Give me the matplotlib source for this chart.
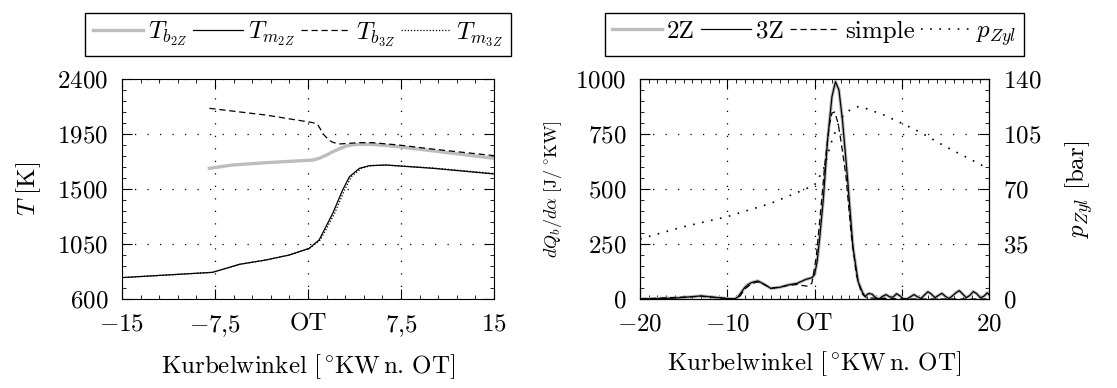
import numpy as np
import matplotlib
matplotlib.use("Agg")
import matplotlib.pyplot as plt
from matplotlib.ticker import MultipleLocator, AutoMinorLocator

plt.rcParams['font.family'] = 'serif'
plt.rcParams['font.serif'] = ['cmr10']
plt.rcParams['mathtext.fontset'] = 'cm'
plt.rcParams['axes.formatter.use_mathtext'] = True
plt.rcParams['font.size'] = 18

# --- left panel: temperatures ---
x_m2 = [-15, -7.7, -5.5, -3.4, -1.5, 0.1, 0.9, 2.0, 2.8, 3.35, 4.15, 4.96, 6.3, 10.1, 15]
T_m2 = [775, 818, 884, 919, 960, 1014, 1083, 1301, 1492, 1601, 1669, 1691, 1696, 1669, 1623]
x_m3 = [-15, -7.7, -5.5, -3.4, -1.5, 0.1, 1.0, 2.15, 2.95, 3.5, 4.3, 5.1, 6.3, 10.1, 15]
T_m3 = [775, 818, 884, 919, 960, 1014, 1083, 1301, 1492, 1601, 1669, 1691, 1696, 1672, 1627]
x_b2 = [-7.95, -6.1, -3.4, 0.4, 0.9, 1.5, 2.0, 2.6, 3.1, 3.6, 4.2, 5.2, 7.3, 10.0, 15]
T_b2 = [1669, 1696, 1715, 1737, 1751, 1778, 1805, 1832, 1852, 1861, 1865, 1865, 1846, 1813, 1751]
x_b3 = [-7.95, -3.4, 0.4, 0.8, 1.3, 1.7, 2.0, 2.5, 4.1, 5.2, 7.3, 10.0, 15]
T_b3 = [2160, 2105, 2043, 2024, 1942, 1900, 1882, 1868, 1879, 1879, 1860, 1827, 1773]

# --- right panel: heat release and cylinder pressure ---
x_q = [-20, -16, -13, -11, -10, -9.2, -8.8, -8.4, -8, -7.6, -7.2, -6.5, -5.8, -5, -4, -3, -2,
       -1, -0.3, 0, 0.3, 0.6, 1, 1.5, 2, 2.4, 2.8, 3.2, 3.8, 4.4, 5, 5.5, 5.8, 6.2, 6.6, 7,
       7.4, 7.8, 8.2, 8.6, 9.0, 9.4, 9.8, 10.2, 10.6, 11.0, 11.4, 11.8, 12.2, 12.6, 13.0,
       13.4, 13.8, 14.2, 14.6, 15.0, 15.4, 15.8, 16.2, 16.6, 17.0, 17.4, 17.8, 18.2, 18.6,
       19.0, 19.4, 19.8, 20]
q_3z = [0, 4, 14, 6, 2, 0, 8, 30, 52, 66, 75, 82, 68, 48, 53, 64, 71,
        89, 97, 110, 170, 280, 450, 723, 920, 988, 950, 814, 541, 238, 79, 30, 12, 25, 22, 6,
        0, 12, 20, 10, 8, 24, 14, 0, 0, 10, 20, 10, 2, 18, 33,
        22, 6, 16, 26, 12, 2, 14, 28, 38, 22, 6, 16, 34, 24, 6, 12, 28, 20]
x_s = [-20, -13, -10, -9, -8.5, -8, -7.2, -6.5, -5.8, -5, -4, -3, -2, -1.5, -0.8, -0.3,
       0.2, 0.7, 1.2, 1.7, 2.0, 2.3, 2.7, 3.1, 3.6, 4.2, 4.8, 5.4, 6, 10, 20]
q_s = [0, 12, 2, 0, 15, 45, 70, 78, 66, 50, 54, 62, 66, 62, 58, 72,
       190, 400, 620, 790, 845, 850, 800, 700, 560, 300, 110, 25, 5, 0, 0]
x_p = [-20, -15, -10, -5, -2, 0, 1, 2, 3, 4, 5, 6, 8, 10, 12, 15, 18, 20]
p_zyl = [38.2, 46, 52.4, 60.9, 67.7, 72.5, 82, 101, 115, 120, 122.4, 121, 117, 111.8,
         106.5, 97, 88.5, 82.7]

xlabel = r'$\mathrm{Kurbelwinkel\ [^\circ\!KW\,n.\,OT]}$'

fig = plt.figure(figsize=(11.17, 3.88), dpi=100)
ax1 = fig.add_axes([0.1092, 0.2294, 0.3330, 0.5670])
ax2 = fig.add_axes([0.5730, 0.2294, 0.3124, 0.5670])
ax3 = ax2.twinx()

grid_kw = dict(color='black', linestyle=(0, (1, 9)), linewidth=0.9)
gray = '#bdbdbd'
leg_kw = dict(loc='center', ncol=4, fancybox=False, edgecolor='black', framealpha=1,
              handlelength=2.0, handletextpad=0.2, columnspacing=0.25, borderpad=0.3,
              fontsize=18)

l1, = ax1.plot(x_b2, T_b2, color=gray, lw=2.4, label=r'$T_{b_{2Z}}$')
l2, = ax1.plot(x_m2, T_m2, color='black', lw=0.9, label=r'$T_{m_{2Z}}$')
l3, = ax1.plot(x_b3, T_b3, color='black', lw=0.9, ls=(0, (5, 3)), label=r'$T_{b_{3Z}}$')
l4, = ax1.plot(x_m3, T_m3, color='black', lw=0.9, ls=(0, (1, 1.5)), label=r'$T_{m_{3Z}}$')
ax1.set_xlim(-15, 15)
ax1.set_ylim(600, 2400)
ax1.set_xticks([-15, -7.5, 0, 7.5, 15])
ax1.set_xticklabels([r'$-15$', r'$-7{,}5$', 'OT', r'$7{,}5$', r'$15$'])
ax1.set_yticks([600, 1050, 1500, 1950, 2400])
ax1.set_yticklabels([r'$600$', r'$1050$', r'$1500$', r'$1950$', r'$2400$'])
ax1.xaxis.set_minor_locator(MultipleLocator(1.5))
ax1.yaxis.set_minor_locator(AutoMinorLocator(5))
ax1.grid(True, **grid_kw)
ax1.set_ylabel(r'$T\ \mathrm{[K]}$', labelpad=10)
ax1.set_xlabel(xlabel, labelpad=10)
ax1.tick_params(which='both', direction='in', top=True, right=True)
ax1.tick_params(which='major', length=7, pad=10)
ax1.tick_params(which='minor', length=3)
fig.legend(handles=[l1, l2, l3, l4], bbox_to_anchor=(0.2668, 0.912), **leg_kw)

r1, = ax2.plot(x_q, q_3z, color=gray, lw=2.4, label='2Z')
r2, = ax2.plot(x_q, q_3z, color='black', lw=0.9, label='3Z')
r3, = ax2.plot(x_s, q_s, color='black', lw=0.9, ls=(0, (5, 3)), label='simple')
r4, = ax3.plot(x_p, p_zyl, color='black', lw=1.2, ls=(0, (1, 4.5)), label=r'$p_{Zyl}$')
ax2.set_xlim(-20, 20)
ax2.set_ylim(0, 1000)
ax3.set_ylim(0, 140)
ax2.set_xticks([-20, -10, 0, 10, 20])
ax2.set_xticklabels([r'$-20$', r'$-10$', 'OT', r'$10$', r'$20$'])
ax2.set_yticks([0, 250, 500, 750, 1000])
ax2.set_yticklabels([r'$0$', r'$250$', r'$500$', r'$750$', r'$1000$'])
ax3.set_yticks([0, 35, 70, 105, 140])
ax3.set_yticklabels([r'$0$', r'$35$', r'$70$', r'$105$', r'$140$'])
ax2.xaxis.set_minor_locator(MultipleLocator(1))
ax2.yaxis.set_minor_locator(AutoMinorLocator(5))
ax3.yaxis.set_minor_locator(AutoMinorLocator(5))
ax2.grid(True, **grid_kw)
ax2.set_ylabel(r'$dQ_b/d\alpha\ \mathrm{[J/^\circ\!KW]}$', fontsize=13, labelpad=8)
ax3.set_ylabel(r'$p_{Zyl}\ \mathrm{[bar]}$', labelpad=16)
ax2.set_xlabel(xlabel, labelpad=10)
ax2.tick_params(which='both', direction='in', top=True)
ax2.tick_params(which='major', length=7, pad=10)
ax2.tick_params(which='minor', length=3)
ax3.tick_params(which='both', direction='in')
ax3.tick_params(which='major', length=7, pad=10)
ax3.tick_params(which='minor', length=3)
fig.legend(handles=[r1, r2, r3, r4], bbox_to_anchor=(0.7292, 0.912), **leg_kw)

fig.savefig('out.png', dpi=100)
